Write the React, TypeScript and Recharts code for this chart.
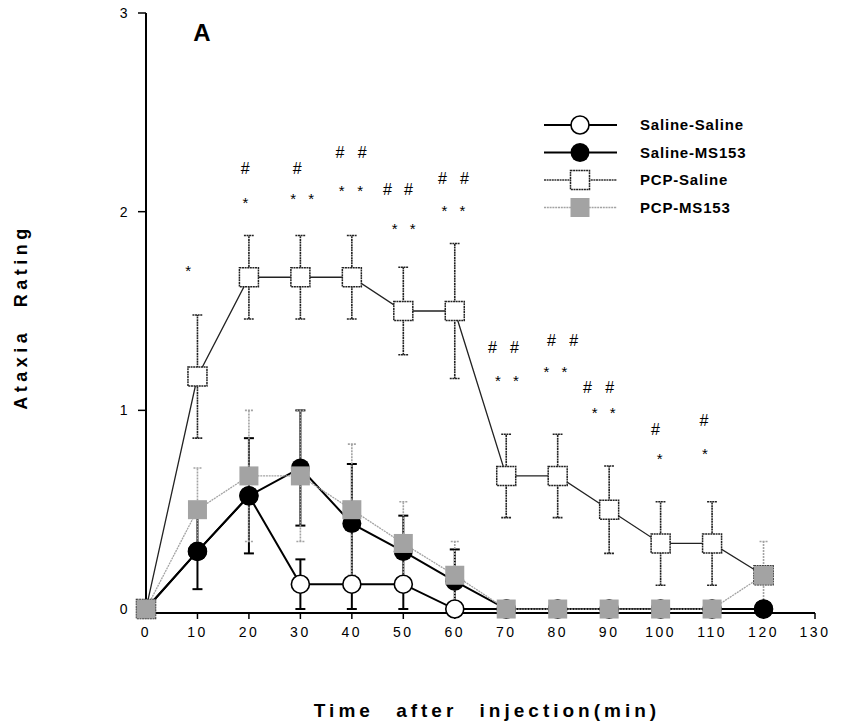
import { ComposedChart, Line, XAxis, YAxis, ErrorBar, ReferenceDot, Legend, Label } from 'recharts'

// time after injection (min)
const times = [0, 10, 20, 30, 40, 50, 60, 70, 80, 90, 100, 110, 120]

const salineSaline = [0, 0.29, 0.57, 0.125, 0.125, 0.125, 0, 0, 0, 0, 0, 0, 0]
const salineSalineErr: (number | number[] | null)[] = [null, null, null, 0.125, [0.125, 0.02], [0.125, 0.02], null, null, null, null, null, null, null]

const salineMs153 = [0, 0.29, 0.57, 0.71, 0.43, 0.29, 0.14, 0, 0, 0, 0, 0, 0]
const salineMs153Err: (number | null)[] = [null, 0.19, 0.29, 0.29, 0.3, 0.18, 0.16, null, null, null, null, null, null]

const pcpSaline = [0, 1.17, 1.67, 1.67, 1.67, 1.5, 1.5, 0.67, 0.67, 0.5, 0.33, 0.33, 0.17]
const pcpSalineErr: (number | null)[] = [null, 0.31, 0.21, 0.21, 0.21, 0.22, 0.34, 0.21, 0.21, 0.22, 0.21, 0.21, null]

const pcpMs153 = [0, 0.5, 0.67, 0.67, 0.5, 0.33, 0.17, 0, 0, 0, 0, 0, 0.17]
const pcpMs153Err: (number | null)[] = [null, 0.21, 0.33, 0.33, 0.33, 0.21, 0.17, null, null, null, null, null, 0.17]

const xTicks = [0, 10, 20, 30, 40, 50, 60, 70, 80, 90, 100, 110, 120, 130]
const yTicks = [0, 1, 2, 3]

// significance marks: * vs Saline-Saline, # vs PCP-MS153
const marks = [
  { t: 8.2, y: 1.72, m: '*' },
  { t: 19.3, y: 2.22, m: '#' }, { t: 19.3, y: 2.06, m: '*' },
  { t: 29.4, y: 2.22, m: '#' }, { t: 28.6, y: 2.08, m: '*' }, { t: 32.1, y: 2.08, m: '*' },
  { t: 37.7, y: 2.3, m: '#' }, { t: 42, y: 2.3, m: '#' }, { t: 38, y: 2.12, m: '*' }, { t: 41.6, y: 2.12, m: '*' },
  { t: 46.9, y: 2.115, m: '#' }, { t: 51, y: 2.115, m: '#' }, { t: 48.3, y: 1.93, m: '*' }, { t: 51.8, y: 1.93, m: '*' },
  { t: 57.6, y: 2.17, m: '#' }, { t: 61.9, y: 2.17, m: '#' }, { t: 58, y: 2.02, m: '*' }, { t: 61.5, y: 2.02, m: '*' },
  { t: 67.3, y: 1.32, m: '#' }, { t: 71.6, y: 1.32, m: '#' }, { t: 68.4, y: 1.165, m: '*' }, { t: 71.9, y: 1.165, m: '*' },
  { t: 78.8, y: 1.355, m: '#' }, { t: 83.1, y: 1.355, m: '#' }, { t: 77.8, y: 1.21, m: '*' }, { t: 81.3, y: 1.21, m: '*' },
  { t: 85.8, y: 1.115, m: '#' }, { t: 90.1, y: 1.115, m: '#' }, { t: 87.2, y: 1.005, m: '*' }, { t: 90.7, y: 1.005, m: '*' },
  { t: 99, y: 0.905, m: '#' }, { t: 99.8, y: 0.77, m: '*' },
  { t: 108.4, y: 0.95, m: '#' }, { t: 108.6, y: 0.795, m: '*' },
]

const series = [
  { name: 'Saline-Saline', kind: 'openCircle' },
  { name: 'Saline-MS153', kind: 'filledCircle' },
  { name: 'PCP-Saline', kind: 'openSquare' },
  { name: 'PCP-MS153', kind: 'greySquare' },
]

const data = times.map((t, i) => ({
  t,
  ss: salineSaline[i], ssErr: salineSalineErr[i],
  sm: salineMs153[i], smErr: salineMs153Err[i],
  ps: pcpSaline[i], psErr: pcpSalineErr[i],
  pm: pcpMs153[i], pmErr: pcpMs153Err[i],
}))

const FONT = '"Liberation Sans", Arial, Helvetica, sans-serif'
const GREY = '#a3a3a3'

function Marker({ kind, cx, cy }: { kind: string; cx: number; cy: number }) {
  if (kind === 'openCircle') return <circle cx={cx} cy={cy} r={9} fill="#fff" stroke="#000" strokeWidth={1.6} />
  if (kind === 'filledCircle') return <circle cx={cx} cy={cy} r={9.5} fill="#000" />
  if (kind === 'openSquare') return <rect x={cx - 9.5} y={cy - 9.5} width={19} height={19} fill="#fff" stroke="#222" strokeWidth={1.5} strokeDasharray="2 0.6" />
  return <rect x={cx - 9.5} y={cy - 9.5} width={19} height={19} fill={GREY} />
}

const dotFor = (kind: string) => (props: any) => {
  if (props.cx == null || props.cy == null) return <g key={props.index} />
  return <Marker key={props.index} kind={kind} cx={props.cx} cy={props.cy} />
}

function LegendBox() {
  const lineStyle: Record<string, { stroke: string; width: number; dash?: string }> = {
    openCircle: { stroke: '#000', width: 2 },
    filledCircle: { stroke: '#000', width: 2 },
    openSquare: { stroke: '#333', width: 1.3, dash: '2 0.6' },
    greySquare: { stroke: GREY, width: 1.3, dash: '2 0.8' },
  }
  return (
    <svg width={230} height={110}>
      {series.map((s, i) => {
        const y = 15 + i * 27.5
        const ls = lineStyle[s.kind]
        return (
          <g key={s.name}>
            <line x1={4} x2={77} y1={y} y2={y} stroke={ls.stroke} strokeWidth={ls.width} strokeDasharray={ls.dash} />
            <Marker kind={s.kind} cx={40} cy={y} />
            <text x={100} y={y} dy="0.36em" fontFamily={FONT} fontWeight="bold" fontSize={15} letterSpacing={0.8} fill="#000">{s.name}</text>
          </g>
        )
      })}
    </svg>
  )
}

const tickStyle = { fontFamily: FONT, fontSize: 14, fill: '#000', letterSpacing: 2.5 }

export default function App() {
  return (
    <div style={{ position: 'absolute', left: 0, top: 0, width: 845, height: 721, background: '#fff' }}>
      <ComposedChart width={845} height={721} data={data} margin={{ top: 13, right: 30, bottom: 78, left: 86 }}>
        <XAxis
          dataKey="t"
          type="number"
          domain={[0, 130]}
          ticks={xTicks}
          interval={0}
          height={30}
          axisLine={{ stroke: '#000', strokeWidth: 2 }}
          tickLine={{ stroke: '#000', strokeWidth: 1.5 }}
          tickSize={6}
          tickMargin={8}
          tick={tickStyle}
        >
          <Label
            content={() => (
              <text x={487} y={717} textAnchor="middle" fontFamily={FONT} fontWeight="bold" fontSize={19} letterSpacing={4} wordSpacing={13} fill="#000">
                Time after injection(min)
              </text>
            )}
          />
        </XAxis>
        <YAxis
          type="number"
          domain={[0, 3]}
          ticks={yTicks}
          width={60}
          axisLine={{ stroke: '#000', strokeWidth: 2 }}
          tickLine={{ stroke: '#000', strokeWidth: 1.5 }}
          tickSize={8}
          tickMargin={8}
          tick={tickStyle}
        >
          <Label
            content={() => (
              <text x={27} y={317} textAnchor="middle" transform="rotate(-90 27 317)" fontFamily={FONT} fontWeight="bold" fontSize={18} letterSpacing={4.5} wordSpacing={12} fill="#000">
                Ataxia Rating
              </text>
            )}
          />
        </YAxis>

        <Line dataKey="ss" name="Saline-Saline" stroke="#000" strokeWidth={2} dot={dotFor('openCircle')} activeDot={false} isAnimationActive={false}>
          <ErrorBar dataKey="ssErr" width={5} stroke="#000" strokeWidth={2} />
        </Line>
        <Line dataKey="sm" name="Saline-MS153" stroke="#000" strokeWidth={2} dot={dotFor('filledCircle')} activeDot={false} isAnimationActive={false}>
          <ErrorBar dataKey="smErr" width={5} stroke="#000" strokeWidth={2} />
        </Line>
        <Line dataKey="ps" name="PCP-Saline" stroke="#222" strokeWidth={1.3} dot={dotFor('openSquare')} activeDot={false} isAnimationActive={false}>
          <ErrorBar dataKey="psErr" width={5} stroke="#222" strokeWidth={1.6} strokeDasharray="2 0.6" />
        </Line>
        <Line dataKey="pm" name="PCP-MS153" stroke={GREY} strokeWidth={1.3} strokeDasharray="2 0.8" dot={dotFor('greySquare')} activeDot={false} isAnimationActive={false}>
          <ErrorBar dataKey="pmErr" width={4} stroke={GREY} strokeWidth={1.6} strokeDasharray="2 1" />
        </Line>

        {marks.map((mk, i) => (
          <ReferenceDot
            key={i}
            x={mk.t}
            y={mk.y}
            shape={(p: any) => (
              <text
                x={p.cx}
                y={p.cy}
                dy={mk.m === '*' ? '0.55em' : '0.36em'}
                textAnchor="middle"
                fontFamily={FONT}
                fontSize={mk.m === '*' ? 15 : 16}
                fill="#000"
              >
                {mk.m}
              </text>
            )}
          />
        ))}

        <text x={202} y={32} dy="0.36em" textAnchor="middle" fontFamily={FONT} fontWeight="bold" fontSize={24} fill="#000">A</text>

        <Legend
          layout="horizontal"
          align="center"
          verticalAlign="middle"
          wrapperStyle={{ left: 540, top: 110, width: 230, height: 110 }}
          content={() => <LegendBox />}
        />
      </ComposedChart>
    </div>
  )
}
